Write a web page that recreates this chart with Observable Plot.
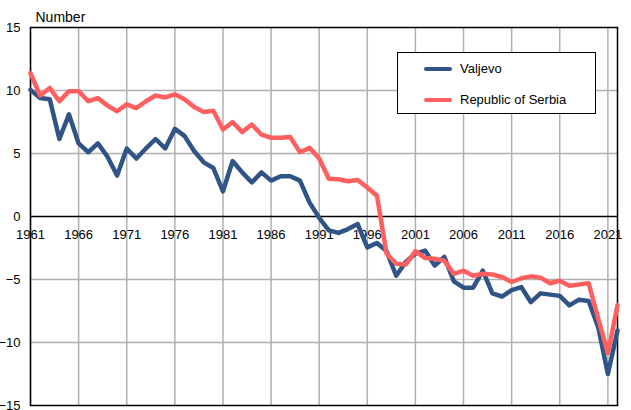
<!DOCTYPE html>
<html>
<head>
<meta charset="utf-8">
<script src="https://cdn.jsdelivr.net/npm/d3@7"></script>
<script src="https://cdn.jsdelivr.net/npm/@observablehq/plot@0.6"></script>
<style>
  body { margin: 0; background: white; font-family: "Liberation Sans", Arial, sans-serif; }
  #wrap { position: relative; width: 631px; height: 410px; overflow: hidden; }
  #legend { position: absolute; left: 397px; top: 52px; width: 199px; height: 62px;
    border: 1px solid #000; background: white; box-sizing: border-box; font-size: 13px; color: #000; }
  .item { position: absolute; left: 26px; display: flex; align-items: center; }
  .swatch { width: 28px; height: 4px; border-radius: 2px; margin-right: 8px; }
</style>
</head>
<body>
<div id="wrap"></div>
<script>
const years = d3.range(1961, 2023);
const valjevo = [10.05, 9.4, 9.3, 6.15, 8.1, 5.8, 5.1, 5.8, 4.75, 3.25,
  5.4, 4.6, 5.4, 6.15, 5.4, 6.95, 6.4, 5.2, 4.3, 3.85,
  2.0, 4.4, 3.5, 2.7, 3.5, 2.85, 3.2, 3.2, 2.85, 1.1,
  -0.1, -1.1, -1.3, -1.0, -0.6, -2.45, -2.1, -2.75, -4.7, -3.6,
  -2.95, -2.7, -3.9, -3.2, -5.15, -5.65, -5.65, -4.3, -6.1, -6.35,
  -5.85, -5.6, -6.8, -6.1, -6.2, -6.3, -7.05, -6.6, -6.7, -8.8,
  -12.5, -9.05];
const serbia = [11.37, 9.6, 10.2, 9.15, 9.95, 9.95, 9.15, 9.4, 8.8, 8.35,
  8.9, 8.6, 9.15, 9.6, 9.45, 9.7, 9.3, 8.7, 8.3, 8.4,
  6.9, 7.5, 6.7, 7.3, 6.5, 6.25, 6.25, 6.3, 5.1, 5.45,
  4.6, 3.0, 2.95, 2.8, 2.9, 2.3, 1.65, -2.95, -3.75, -3.8,
  -2.75, -3.3, -3.35, -3.5, -4.55, -4.3, -4.7, -4.55, -4.6, -4.8,
  -5.2, -4.9, -4.75, -4.85, -5.3, -5.1, -5.5, -5.4, -5.3, -8.1,
  -10.85, -7.05];
const xTicks = [1961, 1966, 1971, 1976, 1981, 1986, 1991, 1996, 2001, 2006, 2011, 2016, 2021];
const yGrid = [-10, -5, 5, 10];
const seriesNames = ["Valjevo", "Republic of Serbia"];
const colors = ["#2f5485", "#ff5f5f"];
const yLabel = "Number";

const vData = years.map((y, i) => ({year: y, value: valjevo[i]}));
const sData = years.map((y, i) => ({year: y, value: serbia[i]}));

const chart = Plot.plot({
  width: 631,
  height: 410,
  marginLeft: 30,
  marginRight: 14,
  marginTop: 27,
  marginBottom: 5,
  style: {fontSize: "13px", fontFamily: "Liberation Sans, Arial, sans-serif", color: "#000", background: "white"},
  x: {domain: [1961, 2022], axis: null},
  y: {domain: [-15, 15], ticks: 6, tickSize: 0, tickPadding: 10, label: null},
  marks: [
    Plot.ruleX(xTicks, {stroke: "#b0b0b0", strokeWidth: 1.5}),
    Plot.ruleY(yGrid, {stroke: "#b0b0b0", strokeWidth: 1.5}),
    Plot.ruleY([0], {stroke: "#000", strokeWidth: 1.5}),
    Plot.frame({stroke: "#000", strokeWidth: 1.5}),
    Plot.text(xTicks, {x: d => d, y: 0, text: d => String(d), dy: 18, fill: "#000"}),
    Plot.text([yLabel], {frameAnchor: "top-left", textAnchor: "start", dx: 5, dy: -15, fill: "#000", fontSize: 14}),
    Plot.line(vData, {x: "year", y: "value", stroke: colors[0], strokeWidth: 4.5, strokeLinejoin: "round"}),
    Plot.line(sData, {x: "year", y: "value", stroke: colors[1], strokeWidth: 4.5, strokeLinejoin: "round"})
  ]
});
const wrap = document.getElementById("wrap");
wrap.appendChild(chart);

const legend = document.createElement("div");
legend.id = "legend";
seriesNames.forEach((name, i) => {
  const item = document.createElement("div");
  item.className = "item";
  item.style.top = (i === 0 ? 8 : 39) + "px";
  const sw = document.createElement("span");
  sw.className = "swatch";
  sw.style.background = colors[i];
  const t = document.createElement("span");
  t.textContent = name;
  item.appendChild(sw);
  item.appendChild(t);
  legend.appendChild(item);
});
wrap.appendChild(legend);
</script>
</body>
</html>
